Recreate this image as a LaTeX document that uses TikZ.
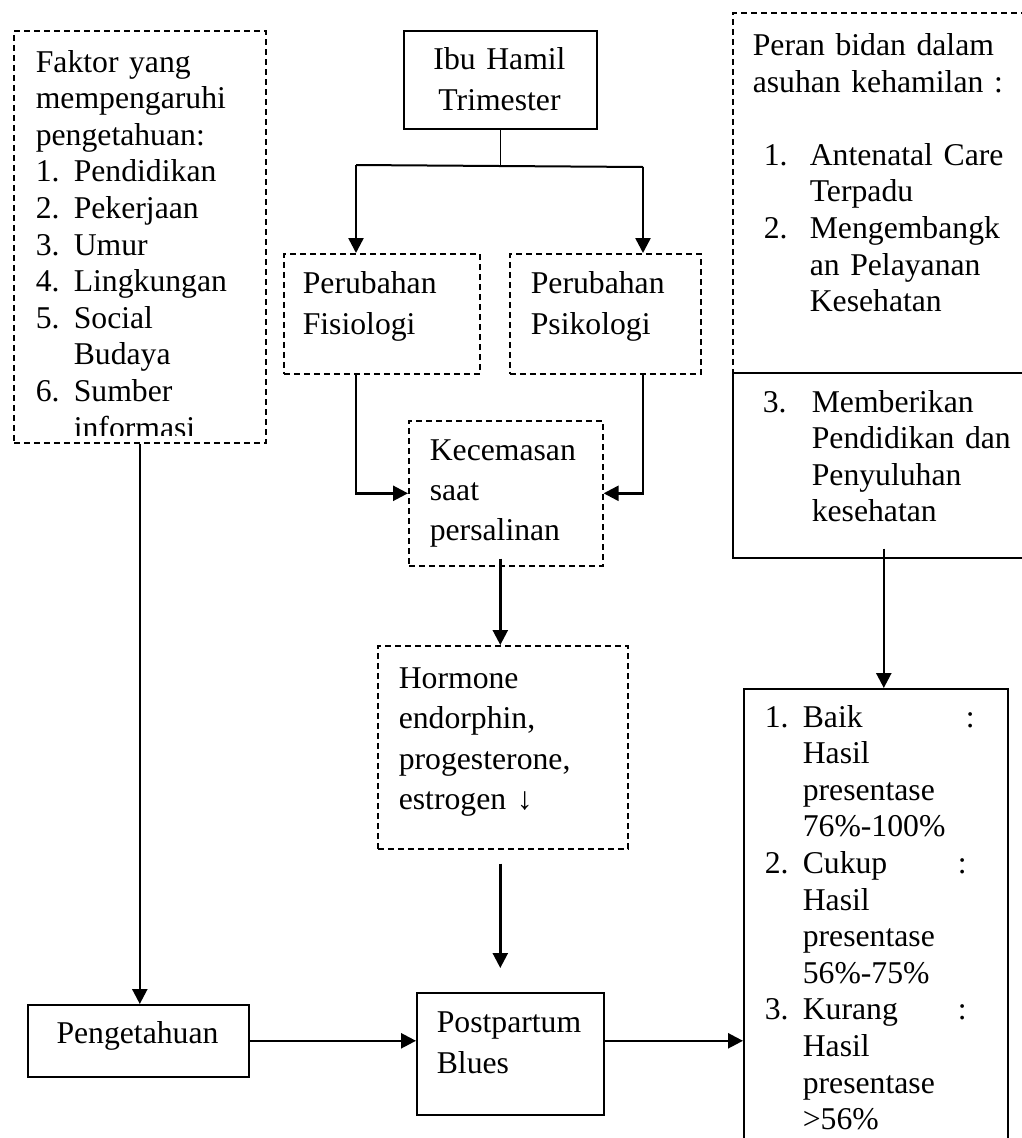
\documentclass[tikz,border=0pt]{standalone}
\usepackage{fontspec}
\setmainfont{Liberation Serif}
\usetikzlibrary{arrows.meta}

\begin{document}
\begin{tikzpicture}[x=1pt,y=-1pt,line width=1.6pt,
	font=\fontsize{31.7}{36.6}\selectfont,
	kotak/.style={draw,inner sep=0pt,anchor=north west},
	putus/.style={kotak,dash pattern=on 6pt off 4pt},
	teks/.style={anchor=base west,inner sep=0pt,text width=#1,align=left},
	renggang/.style={font=\fontsize{31.7}{41}\selectfont},
	panah/.style={line width=2.5pt,-{Triangle[length=15pt,width=15pt]}}]
	\useasboundingbox (0,0) rectangle (1022,1138);
	\clip (0,0) rectangle (1022,1138);
	
	\node[putus,minimum width=252pt,minimum height=412pt] (faktor) at (13,30) {};
	\node[kotak,minimum width=193pt,minimum height=98pt] (ibu) at (403,30) {};
	\node[putus,minimum width=196pt,minimum height=120pt] (fisiologi) at (283,253) {};
	\node[putus,minimum width=191pt,minimum height=120pt] (psikologi) at (509,253) {};
	\node[putus,minimum width=194pt,minimum height=145pt] (kecemasan) at (408,420) {};
	\node[putus,minimum width=250pt,minimum height=203pt] (hormone) at (377,645) {};
	\node[kotak,minimum width=221pt,minimum height=72pt] (pengetahuan) at (27,1004) {};
	\node[kotak,minimum width=187pt,minimum height=122pt] (postpartum) at (416,992) {};
	\node[putus,minimum width=302pt,minimum height=360pt] (peran) at (732,12) {};
	\node[kotak,minimum width=302pt,minimum height=185pt] (memberikan) at (732,372) {};
	\node[kotak,minimum width=264pt,minimum height=500pt] (hasil) at (743,688) {};
	
	\begin{scope}
		\clip (faktor.north west) rectangle ([yshift=8pt]faktor.south east);
		\node[teks=228pt] (faktorteks) at (35,72) {Faktor yang\\mempengaruhi\\pengetahuan:\\
			\makebox[38pt][l]{1.}Pendidikan\\\makebox[38pt][l]{2.}Pekerjaan\\
			\makebox[38pt][l]{3.}Umur\\\makebox[38pt][l]{4.}Lingkungan\\
			\makebox[38pt][l]{5.}Social\\\hspace*{38pt}Budaya\\
			\makebox[38pt][l]{6.}Sumber\\\hspace*{38pt}informasi};
	\end{scope}
	\node[teks=193pt,align=center,anchor=base,renggang] (ibuteks) at (499.5,69) {Ibu Hamil\\Trimester};
	\node[teks=176pt,renggang] (fisiologiteks) at (302,293) {Perubahan\\Fisiologi};
	\node[teks=168pt,renggang] (psikologiteks) at (530,293) {Perubahan\\Psikologi};
	\node[teks=170pt,font=\fontsize{31.7}{40}\selectfont] (kecemasanteks) at (429,460) {Kecemasan\\saat\\persalinan};
	\node[teks=226pt,font=\fontsize{31.7}{40.5}\selectfont] (hormoneteks) at (398,688) {Hormone\\endorphin,\\progesterone,\\estrogen ↓};
	\node[teks=221pt,align=center,anchor=base] (pengetahuanteks) at (137.5,1043) {Pengetahuan};
	\node[teks=165pt,renggang] (postpartumteks) at (436,1032) {Postpartum\\Blues};
	\node[teks=280pt] (peranteks) at (752,55.5) {Peran bidan dalam\\asuhan kehamilan :\\[36.6pt]
		\hspace*{11pt}\makebox[46pt][l]{1.}Antenatal Care\\\hspace*{57pt}Terpadu\\
		\hspace*{11pt}\makebox[46pt][l]{2.}Mengembangk\\\hspace*{57pt}an Pelayanan\\
		\hspace*{57pt}Kesehatan};
	\node[teks=270pt] (memberikanteks) at (762,412) {\makebox[49pt][l]{3.}Memberikan\\
		\hspace*{49pt}Pendidikan dan\\\hspace*{49pt}Penyuluhan\\\hspace*{49pt}kesehatan};
	\node[teks=250pt] (hasilteks) at (764,727) {\makebox[38pt][l]{1.}\makebox[163pt][l]{Baik}:\\
		\hspace*{38pt}Hasil\\\hspace*{38pt}presentase\\\hspace*{38pt}76\%-100\%\\
		\makebox[38pt][l]{2.}\makebox[155pt][l]{Cukup}:\\
		\hspace*{38pt}Hasil\\\hspace*{38pt}presentase\\\hspace*{38pt}56\%-75\%\\
		\makebox[38pt][l]{3.}\makebox[155pt][l]{Kurang}:\\
		\hspace*{38pt}Hasil\\\hspace*{38pt}presentase\\\hspace*{38pt}>56\%};
	
	\path
	(ibu.south) ++(0,37) coordinate (cabang)
	(356,165) coordinate (kiri)
	(643,167) coordinate (kanan)
	;
	\draw[line width=1.3pt] (ibu.south) -- (cabang);
	\draw[line width=2pt] (kiri) -- (kanan);
	\draw[panah] (kiri) -- (kiri |- fisiologi.north);
	\draw[panah] (kanan) -- (kanan |- psikologi.north);
	\draw[panah] (kiri |- fisiologi.south) |- (kecemasan.west);
	\draw[panah] (kanan |- psikologi.south) |- (kecemasan.east);
	\draw[panah,shorten <=-8pt] (cabang |- kecemasan.south) -- (cabang |- hormone.north);
	\draw[panah,shorten <=14pt,shorten >=24pt] (cabang |- hormone.south) -- (cabang |- postpartum.north);
	\draw[panah] (faktor.south) -- (faktor.south |- pengetahuan.north);
	\draw[panah] (pengetahuan.east) -- (pengetahuan.east -| postpartum.west);
	\draw[panah] (pengetahuan.east -| postpartum.east) -- (pengetahuan.east -| hasil.west);
	\draw[panah,shorten <=-10pt] (memberikan.south) -- (memberikan.south |- hasil.north);
	
\end{tikzpicture}
\end{document}
